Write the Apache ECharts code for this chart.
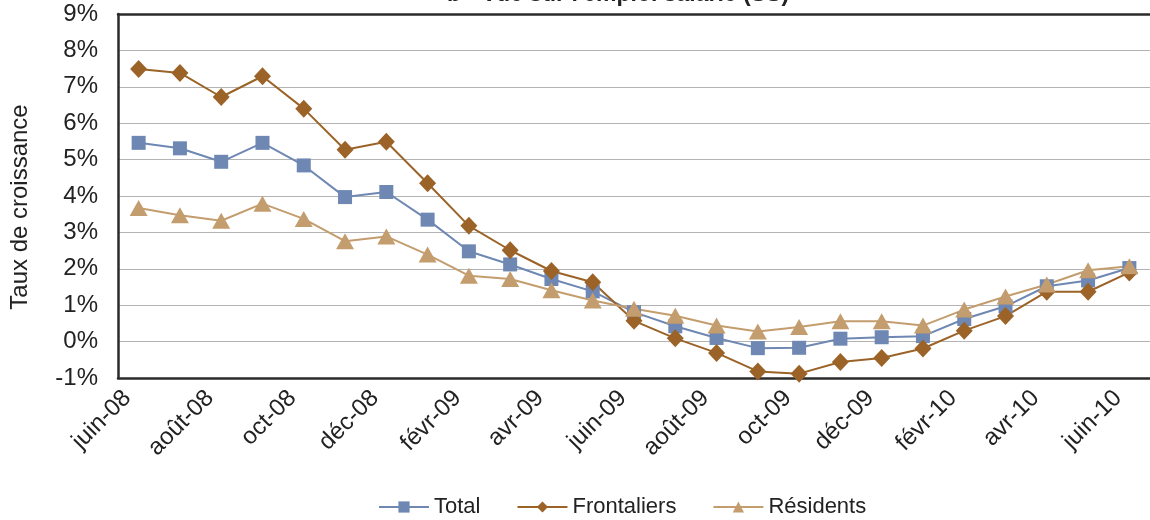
<!DOCTYPE html>
<html>
<head>
<meta charset="utf-8">
<script src="https://cdn.jsdelivr.net/npm/echarts@6/dist/echarts.min.js"></script>
<style>html,body{margin:0;padding:0;background:#fff}#c{width:1150px;height:520px}</style>
</head>
<body>
<div id="c"></div>
<script>
var categories = ['juin-08','juil-08','août-08','sept-08','oct-08','nov-08','déc-08','janv-09','févr-09','mars-09','avr-09','mai-09','juin-09','juil-09','août-09','sept-09','oct-09','nov-09','déc-09','janv-10','févr-10','mars-10','avr-10','mai-10','juin-10'];
var total = [5.46,5.31,4.94,5.46,4.84,3.97,4.11,3.35,2.48,2.12,1.72,1.38,0.81,0.42,0.10,-0.18,-0.17,0.08,0.12,0.15,0.62,0.97,1.52,1.68,2.02];
var frontaliers = [7.49,7.38,6.72,7.29,6.40,5.27,5.49,4.35,3.18,2.51,1.94,1.63,0.57,0.09,-0.31,-0.82,-0.88,-0.56,-0.45,-0.19,0.30,0.70,1.37,1.37,1.90];
var residents = [3.67,3.47,3.32,3.79,3.37,2.76,2.89,2.39,1.81,1.72,1.41,1.13,0.90,0.71,0.44,0.28,0.40,0.56,0.56,0.44,0.88,1.24,1.57,1.96,2.07];
var seriesNames = ['Total','Frontaliers','Résidents'];
var titleText = "b - Vue sur l'emploi salarié (SS)";
var yAxisName = 'Taux de croissance';

var font = 'Liberation Sans, Arial, Helvetica, sans-serif';
var chart = echarts.init(document.getElementById('c'), null, {renderer:'canvas'});
chart.setOption({
  animation: false,
  backgroundColor: '#fff',
  textStyle: {fontFamily: font},
  graphic: [{
    type: 'text', left: 447, top: -17,
    style: {text: titleText, font: 'bold 23px ' + font, fill: '#222'}
  }],
  grid: {left: 116, right: 0, top: 14, bottom: 142, containLabel: false},
  legend: {
    bottom: -3, left: 373, itemGap: 36, itemWidth: 50, itemHeight: 14,
    textStyle: {fontSize: 22, color: '#222', fontFamily: font},
    data: seriesNames
  },
  xAxis: [{
    type: 'category', data: categories, boundaryGap: true,
    axisLine: {show: true, onZero: false, lineStyle: {color: '#2b2b2b', width: 2.5}},
    axisTick: {show: false},
    axisLabel: {interval: 1, rotate: 45, fontSize: 24, color: '#222', margin: 5, padding: [0, 16, 0, 0], fontFamily: font},
    splitLine: {show: false}
  }, {
    type: 'category', data: categories, position: 'top', boundaryGap: true,
    axisLine: {show: true, onZero: false, lineStyle: {color: '#2b2b2b', width: 2.5}},
    axisTick: {show: false}, axisLabel: {show: false}, splitLine: {show: false}
  }],
  yAxis: {
    type: 'value', min: -1, max: 9, interval: 1,
    name: yAxisName, nameLocation: 'middle', nameGap: 86, nameRotate: 90,
    nameTextStyle: {fontSize: 24, color: '#222', fontFamily: font, padding: [0, 0, 0, -22]},
    axisLine: {show: true, lineStyle: {color: '#2b2b2b', width: 2.5}},
    axisTick: {show: false},
    axisLabel: {formatter: '{value}%', fontSize: 24, color: '#222', margin: 20, fontFamily: font},
    splitLine: {lineStyle: {color: '#b3b3b3', width: 1}}
  },
  series: [{
    name: seriesNames[0], type: 'line', data: total,
    symbol: 'rect', symbolSize: 14,
    lineStyle: {color: '#6e87b3', width: 2},
    itemStyle: {color: '#6e87b3'}
  }, {
    name: seriesNames[1], type: 'line', data: frontaliers,
    symbol: 'diamond', symbolSize: [17, 18],
    lineStyle: {color: '#9b6327', width: 2},
    itemStyle: {color: '#9b6327'}
  }, {
    name: seriesNames[2], type: 'line', data: residents,
    symbol: 'triangle', symbolSize: [18, 16],
    lineStyle: {color: '#c49d6e', width: 2},
    itemStyle: {color: '#c49d6e'}
  }]
});
</script>
</body>
</html>
